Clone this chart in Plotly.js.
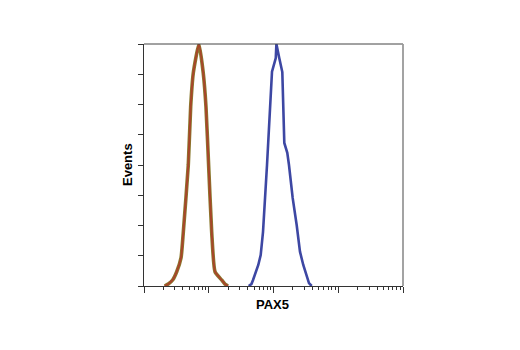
<!DOCTYPE html>
<html>
<head>
<meta charset="utf-8">
<script src="https://cdn.plot.ly/plotly-3.0.1.min.js"></script>
<style>html,body{margin:0;padding:0;background:#fff;}#chart{width:520px;height:350px;}</style>
</head>
<body>
<div id="chart"></div>
<script>
// Control (isotype) histogram: fluorescence intensity vs % of max events
const controlX = [2.09, 2.37, 2.77, 3.20, 3.73, 4.05, 4.83, 5.26, 5.77, 7.06, 8.22, 9.06, 9.95, 11.1, 12.5, 15.8, 17.8, 19.8];
const controlY = [0, 0.8, 2.5, 5.9, 11.6, 22.4, 50, 74.1, 88, 100, 88, 74.1, 50, 22.4, 5.9, 2.5, 0.8, 0];
// PAX5 stained histogram
const pax5X = [41.4, 45.6, 48.3, 51.3, 58.2, 63.4, 68.9, 79.4, 87.5, 94.8, 108.4, 110.9, 122.7, 136.8, 146.9, 163.3, 173.4, 197.7, 228, 256.4, 288.4, 325.8, 353.2, 389];
const pax5Y = [0, 0.8, 2.5, 4.5, 8.7, 12.8, 22.4, 50, 74.1, 88.6, 94.2, 100, 94.2, 88.4, 59.1, 55, 50, 36.4, 25.2, 14.2, 8.7, 4.5, 1.2, 0];
const xTitle = "PAX5";
const yTitle = "Events";

const traces = [
  {x: controlX, y: controlY, type: 'scatter', mode: 'lines', line: {color: '#8a7a2e', width: 3.6, shape: 'spline', smoothing: 0.5}, hoverinfo: 'skip'},
  {x: controlX, y: controlY, type: 'scatter', mode: 'lines', line: {color: '#a8452a', width: 2, shape: 'spline', smoothing: 0.5}, hoverinfo: 'skip'},
  {x: pax5X, y: pax5Y, type: 'scatter', mode: 'lines', line: {color: '#3d47a3', width: 2.6}, hoverinfo: 'skip'}
];

const layout = {
  width: 520, height: 350,
  margin: {l: 144, r: 117, t: 44, b: 64},
  paper_bgcolor: '#fff', plot_bgcolor: '#fff',
  showlegend: false,
  font: {family: 'Liberation Sans, Arial, sans-serif', color: '#000'},
  xaxis: {
    type: 'log', range: [0, 4], dtick: 1,
    showgrid: false, zeroline: false,
    showline: true, linecolor: '#333', linewidth: 1, mirror: false,
    ticks: 'outside', ticklen: 6, tickwidth: 1, tickcolor: '#333',
    showticklabels: false,
    minor: {ticks: 'outside', ticklen: 3, tickwidth: 1, tickcolor: '#333', showgrid: false}
  },
  yaxis: {
    range: [0, 100], dtick: 12.5,
    showgrid: false, zeroline: false,
    showline: true, linecolor: '#333', linewidth: 1, mirror: false,
    ticks: 'outside', ticklen: 5, tickwidth: 1, tickcolor: '#333',
    showticklabels: false
  },
  shapes: [
    {type: 'line', xref: 'paper', yref: 'paper', x0: 0, x1: 1, y0: 1, y1: 1, line: {color: '#444', width: 1}},
    {type: 'line', xref: 'paper', yref: 'paper', x0: 1, x1: 1, y0: 0, y1: 1, line: {color: '#999', width: 1.8}}
  ],
  annotations: [
    {text: '<b>' + xTitle + '</b>', xref: 'paper', yref: 'paper', x: 0.498, y: -0.0785, showarrow: false, xanchor: 'center', yanchor: 'middle', font: {size: 13, color: '#000'}},
    {text: '<b>' + yTitle + '</b>', xref: 'paper', yref: 'paper', x: -0.0656, y: 0.5, showarrow: false, xanchor: 'center', yanchor: 'middle', textangle: -90, font: {size: 13, color: '#000'}}
  ]
};

Plotly.newPlot('chart', traces, layout, {staticPlot: true, displayModeBar: false});
</script>
</body>
</html>
